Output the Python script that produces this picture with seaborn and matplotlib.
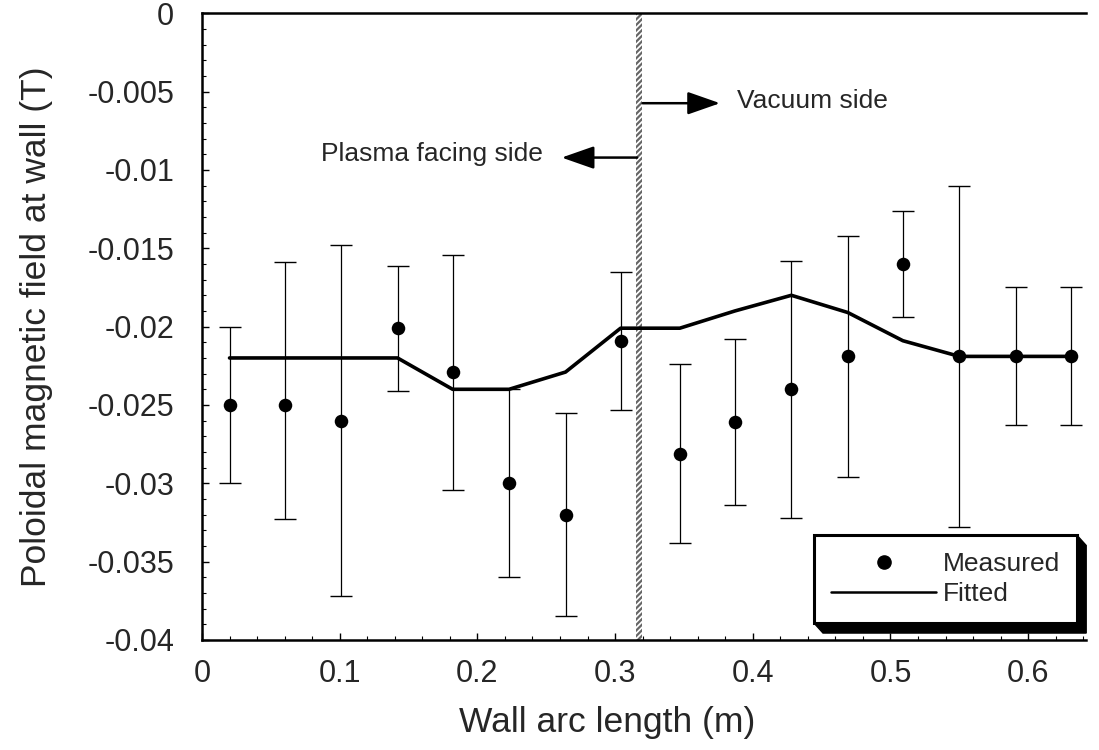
import matplotlib
matplotlib.use("Agg")
import matplotlib.pyplot as plt
import seaborn as sns
import pandas as pd
from matplotlib.patches import Polygon
from matplotlib.lines import Line2D
from matplotlib.ticker import MultipleLocator

# ---------------- data ----------------
arc_length = [0.020, 0.060, 0.101, 0.142, 0.182, 0.223, 0.264, 0.304,
              0.347, 0.387, 0.428, 0.469, 0.509, 0.550, 0.591, 0.631]
measured = [-0.0250, -0.0250, -0.0260, -0.0201, -0.0229, -0.0300, -0.0320, -0.0209,
            -0.0281, -0.0261, -0.0240, -0.0219, -0.0160, -0.0219, -0.0219, -0.0219]
error_lower = [0.0050, 0.0073, 0.0112, 0.0040, 0.0075, 0.0060, 0.0065, 0.0044,
               0.0057, 0.0053, 0.0082, 0.0077, 0.0034, 0.0109, 0.0044, 0.0044]
error_upper = [0.0050, 0.0091, 0.0112, 0.0040, 0.0075, 0.0060, 0.0065, 0.0044,
               0.0057, 0.0053, 0.0082, 0.0077, 0.0034, 0.0109, 0.0044, 0.0044]
fitted = [-0.0220, -0.0220, -0.0220, -0.0220, -0.0240, -0.0240, -0.0229, -0.0201,
          -0.0201, -0.0190, -0.0180, -0.0191, -0.0209, -0.0219, -0.0219, -0.0219]
wall_edges = [0.3155, 0.3195]

xtick_values = [0, 0.1, 0.2, 0.3, 0.4, 0.5, 0.6]
xtick_labels = ["0", "0.1", "0.2", "0.3", "0.4", "0.5", "0.6"]
ytick_values = [0, -0.005, -0.01, -0.015, -0.02, -0.025, -0.03, -0.035, -0.04]
ytick_labels = ["0", "-0.005", "-0.01", "-0.015", "-0.02", "-0.025", "-0.03", "-0.035", "-0.04"]

df = pd.DataFrame({"s": arc_length, "B": measured, "lo": error_lower,
                   "hi": error_upper, "fit": fitted})

# ---------------- style ----------------
sns.set_style("ticks")
plt.rcParams["font.family"] = ["Liberation Sans", "DejaVu Sans"]
plt.rcParams["axes.unicode_minus"] = False
plt.rcParams["hatch.linewidth"] = 1.6

fig = plt.figure(figsize=(10.99, 7.5), dpi=100)
ax = fig.add_axes([0.1838, 0.1467, 0.9882 - 0.1838, 0.9823 - 0.1467])

# wall
ax.axvspan(wall_edges[0], wall_edges[1], facecolor="white", edgecolor="#666666",
           hatch="//////", linewidth=0, zorder=1)

# error bars
ax.errorbar(df["s"], df["B"], yerr=[df["lo"], df["hi"]], fmt="none", ecolor="black",
            elinewidth=0.9, capsize=8, capthick=1.0, zorder=2)

# fitted line and measured points
sns.lineplot(data=df, x="s", y="fit", color="black", linewidth=2.6, ax=ax,
             zorder=3, legend=False)
sns.scatterplot(data=df, x="s", y="B", color="black", s=95, linewidth=0, ax=ax,
                zorder=4, legend=False)

# axes
ax.set_xlim(0, 0.642)
ax.set_ylim(-0.04, 0)
ax.set_xticks(xtick_values)
ax.set_xticklabels(xtick_labels)
ax.set_yticks(ytick_values)
ax.set_yticklabels(ytick_labels)
ax.xaxis.set_minor_locator(MultipleLocator(0.02))
ax.yaxis.set_minor_locator(MultipleLocator(0.001))
ax.tick_params(axis="both", which="major", direction="in", length=5, width=1.0,
               labelsize=22, color="black")
ax.tick_params(axis="x", which="major", pad=14)
ax.tick_params(axis="y", which="major", pad=20)
ax.tick_params(axis="both", which="minor", direction="in", length=3, width=0.8,
               color="black")
for sp in ax.spines.values():
    sp.set_linewidth(1.8)
    sp.set_color("black")
ax.spines["right"].set_visible(False)

ax.set_xlabel("Wall arc length (m)", fontsize=25.5)
ax.xaxis.set_label_coords(0.458, -0.105)
ax.set_ylabel("Poloidal magnetic field at wall (T)", fontsize=25.5, labelpad=25)

# annotations
arrowprops = dict(arrowstyle="-|>,head_length=1.0,head_width=0.35", color="black",
                  lw=1.8, shrinkA=0, shrinkB=0, mutation_scale=20)
ax.annotate("", xy=(0.3762, -0.00574), xytext=(0.3200, -0.00574),
            arrowprops=arrowprops, zorder=5)
ax.annotate("", xy=(0.2612, -0.00921), xytext=(0.3160, -0.00921),
            arrowprops=arrowprops, zorder=5)
ax.text(0.3885, -0.0056, "Vacuum side", fontsize=19, ha="left", va="center")
ax.text(0.2478, -0.0090, "Plasma facing side", fontsize=19, ha="right", va="center")

# legend
handles = [
    Line2D([], [], linestyle="none", marker="o", markersize=9.5, color="black"),
    Line2D([], [], color="black", linewidth=1.8),
]
leg = ax.legend(handles, ["Measured", "Fitted"], loc="lower right",
                bbox_to_anchor=(0.990, 0.027), borderaxespad=0, fontsize=19,
                frameon=True, fancybox=False, framealpha=1, edgecolor="black",
                handlelength=4.0, handletextpad=0.25, borderpad=0.64,
                labelspacing=0.22)
leg.get_frame().set_linewidth(2.2)
leg.set_zorder(6)

# legend 3D shadow
fig.canvas.draw()
bb = leg.get_window_extent().transformed(ax.transAxes.inverted())
axbb = ax.get_window_extent()
dx = 9 / axbb.width
dy = 10 / axbb.height
x0, y0, x1, y1 = bb.x0, bb.y0, bb.x1, bb.y1
shadow = Polygon([(x1, y1), (x1 + dx, y1 - dy), (x1 + dx, y0 - dy), (x0 + dx, y0 - dy),
                  (x0, y0), (x1, y0)], closed=True, transform=ax.transAxes,
                 facecolor="black", edgecolor="black", zorder=5.9, clip_on=False)
ax.add_patch(shadow)

fig.savefig("out.png", dpi=100)
